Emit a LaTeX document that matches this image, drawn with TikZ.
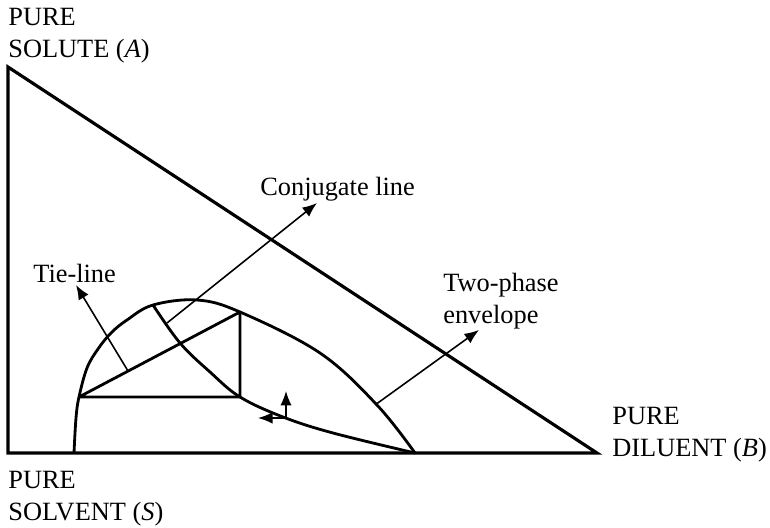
\documentclass[tikz,border=0pt]{standalone}
\usepackage{fontspec}
\setmainfont{Liberation Serif}
\usetikzlibrary{arrows.meta}

\begin{document}
\begin{tikzpicture}[>={Latex[length=0.29cm,width=0.23cm]},
  lbl/.style={inner sep=0, align=left, font=\fontsize{15}{18.2}\selectfont},
  curve/.style={line width=1.6pt, line join=round},
  pointer/.style={->, line width=0.9pt}]
 \useasboundingbox (0,0) rectangle (15.4,10.56);
 % triangle
 \coordinate (A) at (0.16,9.22);
 \coordinate (S) at (0.16,1.50);
 \coordinate (B) at (11.94,1.50);
 \draw[line width=1.8pt, line join=miter] (A) -- (S) -- (B) -- cycle;
 \node[lbl, anchor=north west] (solute) at (0.16,10.40) {PURE\\SOLUTE (\textit{A})};
 \node[lbl, anchor=north west] (solvent) at (0.16,1.14) {PURE\\SOLVENT (\textit{S})};
 \node[lbl, anchor=north west] (diluent) at (12.24,2.42) {PURE\\DILUENT (\textit{B})};
 % tie-line triangle
 \coordinate (P) at (1.58,2.62);
 \coordinate (Q) at (4.80,4.32);
 \coordinate (R) at (4.80,2.62);
 \draw[curve] (P) -- (Q) -- (R) -- cycle;
 % two-phase envelope
 \draw[curve] plot[smooth, tension=0.6] coordinates {(1.48,1.50) (1.52,2.20) (P)
   (1.74,3.20) (1.96,3.58) (2.22,3.90) (2.54,4.16) (3.06,4.46) (3.94,4.56) (Q)
   (6.40,3.50) (7.54,2.46) (8.30,1.50)};
 % conjugate line
 \draw[curve] plot[smooth, tension=0.6] coordinates {(3.06,4.46) (3.60,3.70)
   (4.20,3.12) (R) (5.66,2.22) (6.66,1.90) (8.30,1.50)};
 % pointers
 \coordinate (tieFoot) at (2.56,3.14);
 \coordinate (tieTip) at (1.52,4.86);
 \coordinate (conjFoot) at (3.34,4.10);
 \coordinate (conjTip) at (6.34,6.50);
 \coordinate (envFoot) at (7.50,2.46);
 \coordinate (envTip) at (9.58,3.96);
 \draw[pointer] (tieFoot) -- (tieTip);
 \draw[pointer] (conjFoot) -- (conjTip);
 \draw[pointer] (envFoot) -- (envTip);
 \node[lbl, anchor=north west] (tielabel) at (0.66,5.28) {Tie-line};
 \node[lbl, anchor=north west] (conjlabel) at (5.20,7.02) {Conjugate line};
 \node[lbl, anchor=north west] (envlabel) at (8.86,5.10) {Two-phase\\envelope};
 % direction arrows
 \coordinate (dirCorner) at (5.72,2.20);
 \coordinate (dirUp) at (5.72,2.74);
 \coordinate (dirLeft) at (5.16,2.20);
 \draw[pointer] (dirCorner) -- (dirUp);
 \draw[pointer] (dirCorner) -- (dirLeft);
\end{tikzpicture}
\end{document}
